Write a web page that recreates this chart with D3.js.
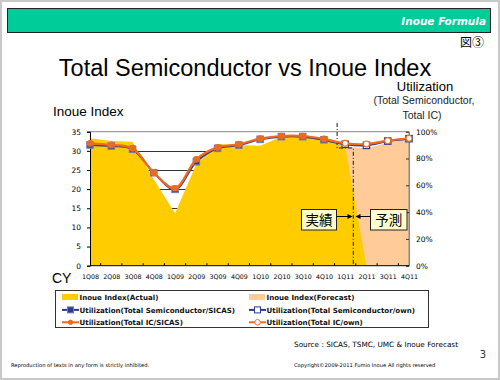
<!DOCTYPE html>
<html><head><meta charset="utf-8">
<script src="https://cdn.jsdelivr.net/npm/d3@7"></script>
<style>body{margin:0;background:#fff}svg{display:block}</style>
</head><body>
<svg id="c" width="500" height="380"></svg>
<script>
const categories = ["1Q08","2Q08","3Q08","4Q08","1Q09","2Q09","3Q09","4Q09","1Q10","2Q10","3Q10","4Q10","1Q11","2Q11","3Q11","4Q11"];
const inoueActual   = [33.3,32.6,32.4,22.5,13.7,26.5,31.8,31.5,31.3,33.7,33.7,32.8,31.1,0,null,null];
const inoueForecast = [null,null,null,null,null,null,null,null,null,null,null,null,31.1,30.7,32.1,33.0];
const utilSemiSicas = [90.1,89.3,86.9,69.4,57.0,77.6,87.6,90.0,94.3,96.3,96.3,94.0,null,null,null,null];
const utilIcSicas   = [91.3,90.1,87.6,69.4,57.8,79.4,88.3,90.6,94.8,96.8,96.8,94.6,null,null,null,null];
const utilSemiOwn   = [null,null,null,null,null,null,null,null,null,null,null,94.0,90.6,89.8,93.0,94.8];
const utilIcOwn     = [null,null,null,null,null,null,null,null,null,null,null,94.6,91.3,90.8,93.3,95.1];
const leftTicks = [0,5,10,15,20,25,30,35];
const rightTicks = [0,20,40,60,80,100];

const svg = d3.select("#c");
const YEL="#FFCC00", PEACH="#FFCC99", NAVY="#2E3A8C", ORG="#EE6A1E";
const SANS="'Liberation Sans', Arial, sans-serif", VER="'DejaVu Sans', Verdana, sans-serif";

// frame
svg.append("rect").attr("x",1).attr("y",1).attr("width",498).attr("height",378).attr("fill","#fff").attr("stroke","#C8C8C8").attr("stroke-width",2);
// header
svg.append("rect").attr("x",7.5).attr("y",8.5).attr("width",483).attr("height",24).attr("fill","#00CC99").attr("stroke","#222").attr("stroke-width",1);
svg.append("text").attr("x",486).attr("y",25).attr("text-anchor","end").attr("fill","#fff")
  .attr("font-family",VER).attr("font-weight","bold").attr("font-style","italic").attr("font-size",10.5).text("Inoue Formula");
svg.append("text").attr("x",484).attr("y",47).attr("text-anchor","end").attr("font-family","'Noto Sans CJK JP'").attr("font-size",12).attr("fill","#000").text("図③");
// title
svg.append("text").attr("x",245).attr("y",76).attr("text-anchor","middle").attr("font-family",SANS).attr("font-size",23.5).attr("fill","#000").text("Total Semiconductor vs Inoue Index");
svg.append("text").attr("x",53).attr("y",116).attr("font-family",SANS).attr("font-size",13.5).text("Inoue Index");
svg.append("text").attr("x",425).attr("y",91).attr("text-anchor","middle").attr("font-family",SANS).attr("font-size",13).text("Utilization");
svg.append("text").attr("x",424).attr("y",103.5).attr("text-anchor","middle").attr("font-family",SANS).attr("font-size",10.5).attr("fill","#222").text("(Total Semiconductor,");
svg.append("text").attr("x",422).attr("y",118.5).attr("text-anchor","middle").attr("font-family",SANS).attr("font-size",10.5).attr("fill","#222").text("Total IC)");

const x = d3.scalePoint().domain(categories).range([90,409]);
const yL = d3.scaleLinear().domain([0,35]).range([265.7,131.7]);
const yR = d3.scaleLinear().domain([0,100]).range([265.7,131.7]);
const step = x.step();

// gridlines
svg.append("g").selectAll("line").data(leftTicks.filter(t=>t>0&&t<35)).join("line")
  .attr("x1",90).attr("x2",409).attr("y1",d=>Math.round(yL(d))+0.5).attr("y2",d=>Math.round(yL(d))+0.5)
  .attr("stroke","#333").attr("stroke-width",1);

// areas
svg.append("path").datum(inoueForecast).attr("fill",PEACH)
  .attr("d", d3.area().defined(d=>d!=null).x((d,i)=>x(categories[i])).y0(yL(0)).y1(d=>yL(d)));
svg.append("path").datum(inoueActual).attr("fill",YEL)
  .attr("d", d3.area().defined(d=>d!=null).x((d,i)=>x(categories[i])).y0(yL(0)).y1(d=>yL(d)));

// plot border top/right
svg.append("path").attr("d",`M90,${yL(35)}H409V${yL(0)}`).attr("fill","none").attr("stroke","#888").attr("stroke-width",1);

// left axis
const gL = svg.append("g").attr("transform","translate(90,0)").call(d3.axisLeft(yL).tickValues(leftTicks).tickSize(3).tickFormat(d3.format("d")));
gL.select(".domain").attr("stroke","#000");
gL.selectAll("text").attr("font-family",VER).attr("font-size",7.5).attr("fill","#000").attr("x",-9);
// right axis
const gR = svg.append("g").attr("transform","translate(409,0)").call(d3.axisRight(yR).tickValues(rightTicks).tickSize(-3).tickFormat(d=>d+"%"));
gR.select(".domain").attr("stroke","#888");
gR.selectAll("line").attr("stroke","#333");
gR.selectAll("text").attr("font-family",VER).attr("font-size",7.5).attr("fill","#000").attr("x",7);
// bottom axis
const gB = svg.append("g").attr("transform",`translate(0,${yL(0)})`).call(d3.axisBottom(x).tickSize(0).tickPadding(9));
gB.select(".domain").attr("stroke","#000").attr("d",`M90,0H409`);
gB.selectAll("text").attr("font-family",VER).attr("font-size",6.3).attr("fill","#000");
gB.selectAll(".mt").data(categories.slice(0,-1)).join("line").attr("class","mt")
  .attr("x1",d=>x(d)+step/2).attr("x2",d=>x(d)+step/2).attr("y1",0).attr("y2",-2.5).attr("stroke","#000");
svg.append("text").attr("x",52).attr("y",283).attr("font-family",SANS).attr("font-size",14).text("CY");

// divider dash-dot line
const xa = x("4Q10")+step*0.62, xb = x("1Q11")+step*0.38;
svg.append("path").attr("d",`M${xa},123V148H${xb}V${yL(0)}`).attr("fill","none").attr("stroke","#000").attr("stroke-width",0.9).attr("stroke-dasharray","4,2,1,2");

// lines
const line = d3.line().defined(d=>d!=null).x((d,i)=>x(categories[i])).y(d=>yR(d)).curve(d3.curveCatmullRom.alpha(0.5));
function series(data, color, width, marker, hollow, range){
  svg.append("path").datum(data).attr("fill","none").attr("stroke",color).attr("stroke-width",width).attr("d",line);
  const pts = data.map((v,i)=>({v,i})).filter(p=>p.v!=null && p.i>=range[0] && p.i<=range[1]);
  if(marker==="sq"){
    svg.append("g").selectAll("rect").data(pts).join("rect")
      .attr("x",p=>x(categories[p.i])-3.2).attr("y",p=>yR(p.v)-3.2).attr("width",6.4).attr("height",6.4)
      .attr("fill",hollow?"#fff":NAVY).attr("stroke",hollow?NAVY:"#6C7DB8").attr("stroke-width",1.2);
  } else {
    svg.append("g").selectAll("circle").data(pts).join("circle")
      .attr("cx",p=>x(categories[p.i])).attr("cy",p=>yR(p.v)).attr("r",hollow?3:2.8)
      .attr("fill",hollow?"#fff":ORG).attr("stroke",ORG).attr("stroke-width",1.1);
  }
}
series(utilSemiOwn, NAVY, 2, "sq", true, [12,15]);
series(utilIcOwn, ORG, 2.2, "ci", true, [12,15]);
series(utilSemiSicas, NAVY, 2, "sq", false, [0,11]);
series(utilIcSicas, ORG, 2.2, "ci", false, [0,11]);

// actual / forecast callouts
function callout(x0,x1,label){
  svg.append("rect").attr("x",x0).attr("y",209.5).attr("width",x1-x0).attr("height",20.5).attr("fill","#FFFFCC").attr("stroke","#222").attr("stroke-width",1);
  svg.append("text").attr("x",(x0+x1)/2).attr("y",225).attr("text-anchor","middle").attr("font-family","'Noto Sans CJK JP'").attr("font-size",13.5).attr("fill","#000").text(label);
}
callout(301.5,336.5,"実績");
callout(370.5,407,"予測");
const ay = 216.5;
svg.append("line").attr("x1",336.5).attr("x2",349).attr("y1",ay).attr("y2",ay).attr("stroke","#000");
svg.append("path").attr("d",`M352.5,${ay}L347.5,${ay-2.5}L347.5,${ay+2.5}Z`).attr("fill","#000");
svg.append("line").attr("x1",370.5).attr("x2",359).attr("y1",ay).attr("y2",ay).attr("stroke","#000");
svg.append("path").attr("d",`M355.5,${ay}L360.5,${ay-2.5}L360.5,${ay+2.5}Z`).attr("fill","#000");

// legend
svg.append("rect").attr("x",55.5).attr("y",290.5).attr("width",373).attr("height",37).attr("fill","#fff").attr("stroke","#333").attr("stroke-width",1);
const legendItems = [
  {t:"Inoue Index(Actual)", type:"area", c:YEL, col:0,row:0},
  {t:"Inoue Index(Forecast)", type:"area", c:PEACH, col:1,row:0},
  {t:"Utilization(Total Semiconductor/SICAS)", type:"sq", c:NAVY, hollow:false, col:0,row:1},
  {t:"Utilization(Total Semiconductor/own)", type:"sq", c:NAVY, hollow:true, col:1,row:1},
  {t:"Utilization(Total IC/SICAS)", type:"ci", c:ORG, hollow:false, col:0,row:2},
  {t:"Utilization(Total IC/own)", type:"ci", c:ORG, hollow:true, col:1,row:2}
];
const lg = svg.append("g");
legendItems.forEach(it=>{
  const sx = it.col? 249:62, cy = 297.5 + it.row*12.4;
  if(it.type==="area"){
    lg.append("rect").attr("x",sx).attr("y",cy-3.5).attr("width",16).attr("height",6).attr("fill",it.c);
  } else {
    lg.append("line").attr("x1",sx).attr("x2",sx+17).attr("y1",cy).attr("y2",cy).attr("stroke",it.c).attr("stroke-width",2);
    if(it.type==="sq") lg.append("rect").attr("x",sx+5.5).attr("y",cy-3).attr("width",6).attr("height",6).attr("fill",it.hollow?"#fff":NAVY).attr("stroke",it.hollow?NAVY:"#6C7DB8").attr("stroke-width",1);
    else lg.append("circle").attr("cx",sx+8.5).attr("cy",cy).attr("r",it.hollow?2.8:2.2).attr("fill",it.hollow?"#fff":ORG).attr("stroke",ORG).attr("stroke-width",1);
  }
  lg.append("text").attr("x",sx+17.5).attr("y",cy+2.7).attr("font-family",VER).attr("font-weight","bold").attr("font-size",7.1).attr("fill","#111").text(it.t);
});

// footer
svg.append("text").attr("x",294).attr("y",347).attr("font-family",VER).attr("font-size",7.3).attr("fill","#000").text("Source : SICAS, TSMC, UMC & Inoue Forecast");
svg.append("text").attr("x",486).attr("y",358).attr("text-anchor","end").attr("font-family",VER).attr("font-size",10).attr("fill","#333").text("3");
svg.append("text").attr("x",11).attr("y",366.5).attr("font-family",VER).attr("font-size",5.2).attr("fill","#000").text("Reproduction of texts in any form is strictly inhibited.");
svg.append("text").attr("x",294).attr("y",366.5).attr("font-family",VER).attr("font-size",5.2).attr("fill","#000").text("Copyright©2009-2011  Fumio Inoue All rights reserved");
</script>
</body></html>
